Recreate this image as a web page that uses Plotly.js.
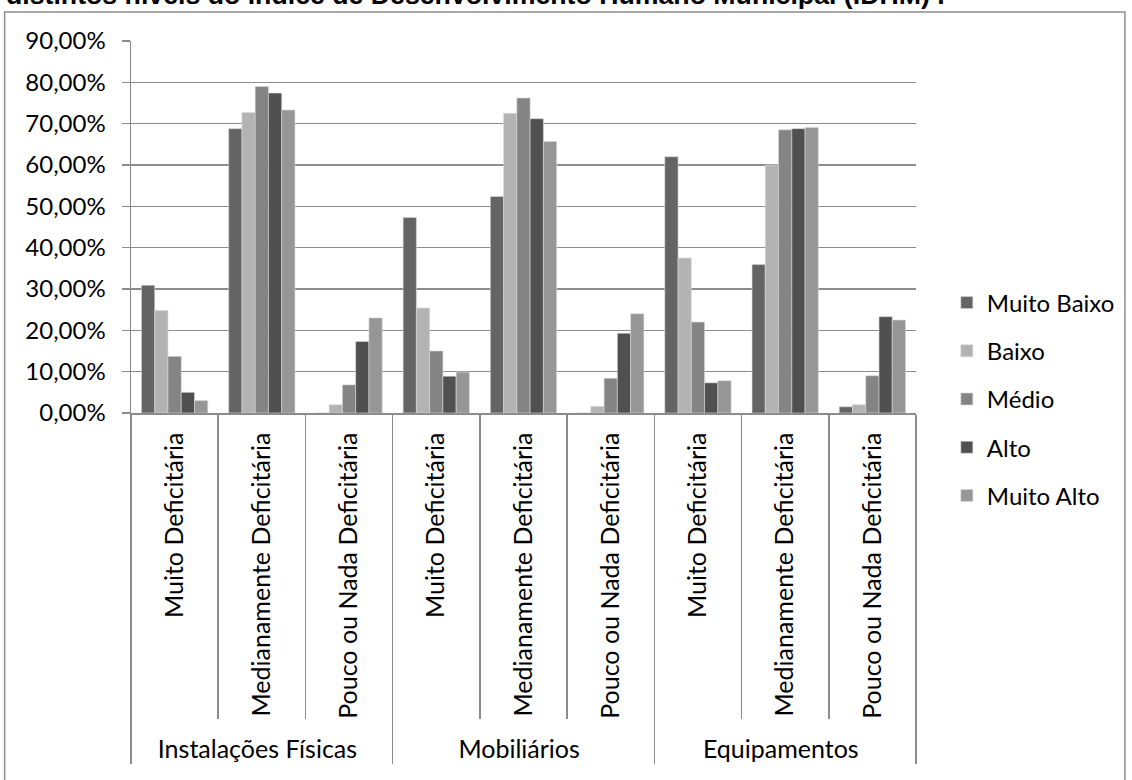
<!DOCTYPE html>
<html>
<head>
<meta charset="utf-8">
<script src="https://cdn.plot.ly/plotly-3.0.1.min.js"></script>
<style>html,body{margin:0;padding:0;background:#fff;}#chart{width:1132px;height:780px;}</style>
</head>
<body>
<div id="chart"></div>
<script>
const groups = ["Instalações Físicas", "Mobiliários", "Equipamentos"];
const subcats = ["Muito Deficitária", "Medianamente Deficitária", "Pouco ou Nada Deficitária"];
const seriesNames = ["Muito Baixo", "Baixo", "Médio", "Alto", "Muito Alto"];
const seriesColors = ["#646464", "#b3b3b3", "#848484", "#505050", "#969696"];

// values in % ; order: [Inst MD, Inst MeD, Inst PND, Mob MD, Mob MeD, Mob PND, Eq MD, Eq MeD, Eq PND]
const muitoBaixo = [30.9, 68.8, 0.0, 47.3, 52.4, 0.0, 62.0, 35.9, 1.5];
const baixo      = [24.8, 72.7, 2.0, 25.4, 72.5, 1.6, 37.5, 60.0, 2.0];
const medio      = [13.7, 79.0, 6.8, 15.0, 76.2, 8.4, 22.0, 68.5, 9.0];
const alto       = [5.0, 77.4, 17.3, 8.9, 71.2, 19.3, 7.3, 68.8, 23.3];
const muitoAlto  = [3.0, 73.3, 23.0, 9.9, 65.7, 24.0, 7.8, 69.1, 22.5];
const seriesValues = [muitoBaixo, baixo, medio, alto, muitoAlto];

const yTickVals = [0, 10, 20, 30, 40, 50, 60, 70, 80, 90];
const yTickText = yTickVals.map(v => v.toFixed(2).replace(".", ",") + "%");
const titleText = "distintos níveis do Índice de Desenvolvimento Humano Municipal (IDHM) .";

const xOuter = [], xInner = [];
groups.forEach(g => subcats.forEach(s => { xOuter.push(g); xInner.push(s); }));

const FONT = "Lato, 'Open Sans', sans-serif";
const FS = 24;
const traces = seriesNames.map((n, i) => ({
  type: "bar",
  name: n,
  x: [xOuter, xInner],
  y: seriesValues[i],
  marker: {color: seriesColors[i], line: {color: "#d8d8d8", width: 0.6}},
  legendgroup: "g" + i,
  hoverinfo: "y+name"
}));

const L = 131, R = 920, T = 41, B = 413, W = 1132, H = 780;
const pw = R - L, ph = B - T;
const px = v => (v - L) / pw;
const py = v => (B - v) / ph;

const layout = {
  width: W, height: H,
  margin: {l: L, r: W - R, t: T, b: H - B, pad: 0},
  paper_bgcolor: "#fff", plot_bgcolor: "#fff",
  font: {family: FONT, size: FS, color: "#000"},
  barmode: "group",
  bargap: 0.24, bargroupgap: 0,
  showlegend: true,
  annotations: [
    {text: "<b>" + titleText + "</b>", xref: "paper", yref: "paper",
     x: px(3), y: py(-5), xanchor: "left", yanchor: "middle", showarrow: false,
     font: {family: "'Liberation Sans', Arial, sans-serif", size: 26.7, color: "#000"}}
  ],
  legend: {
    x: px(951), y: py(399), xanchor: "left", yanchor: "middle",
    font: {family: FONT, size: FS, color: "#000"},
    traceorder: "grouped", tracegroupgap: 14, bgcolor: "rgba(0,0,0,0)"
  },
  xaxis: {
    type: "multicategory",
    showgrid: false,
    showline: true, linecolor: "#8c8c8c", linewidth: 1.5,
    ticks: "outside", tickson: "boundaries", ticklen: 304, tickcolor: "#8c8c8c", tickwidth: 1.5,
    tickangle: -90,
    ticklabelstandoff: 8,
    showdividers: true, dividercolor: "#8c8c8c", dividerwidth: 1.5,
    tickfont: {family: FONT, size: 25, color: "#000"},
    fixedrange: true
  },
  yaxis: {
    range: [0, 90],
    tickvals: yTickVals,
    ticktext: yTickText,
    showgrid: true, gridcolor: "#8c8c8c", gridwidth: 1.5,
    showline: true, linecolor: "#8c8c8c", linewidth: 1.5,
    ticks: "outside", ticklen: 8, tickcolor: "#8c8c8c", tickwidth: 1.5,
    ticklabelstandoff: 11,
    tickfont: {family: FONT, size: FS, color: "#000"},
    zeroline: false, fixedrange: true
  },
  shapes: [
    {type: "rect", xref: "paper", yref: "paper",
     x0: px(4), x1: px(1130), y0: py(800), y1: py(12),
     line: {color: "#8c8c8c", width: 1.5}, fillcolor: "rgba(0,0,0,0)", layer: "below"}
  ]
};

Plotly.newPlot("chart", traces, layout, {displayModeBar: false, staticPlot: true});
</script>
</body>
</html>
